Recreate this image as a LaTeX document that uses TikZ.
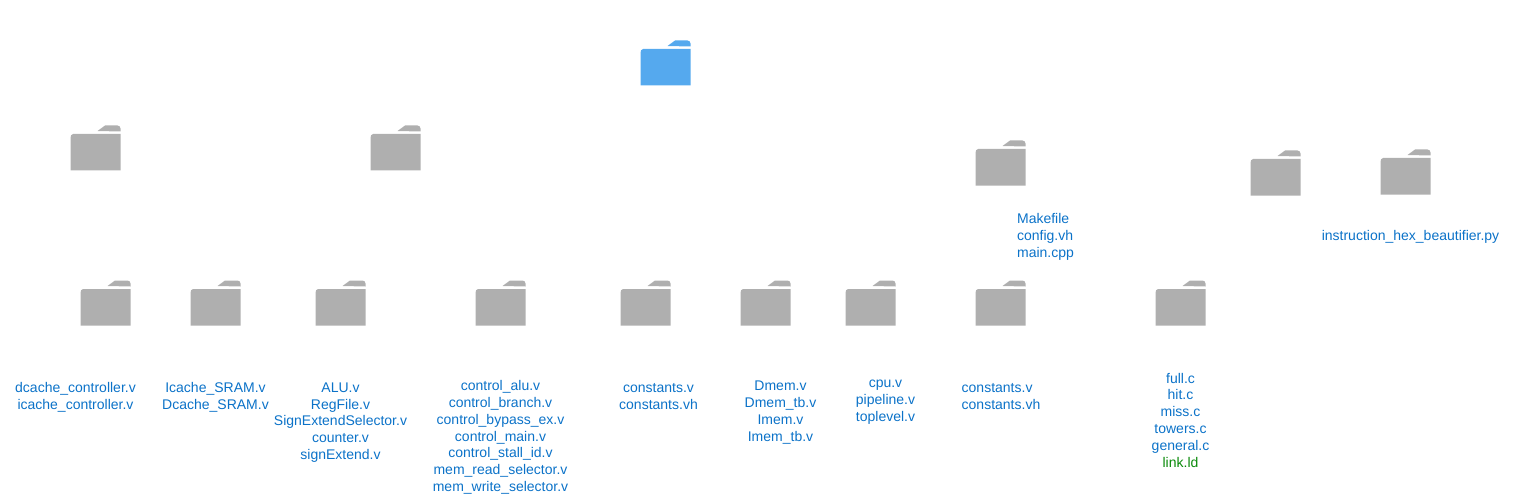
\documentclass[tikz,border=0pt]{standalone}
\usepackage{fontspec}
\setmainfont{Liberation Sans}
\usetikzlibrary{calc}
\definecolor{rootblue}{HTML}{55A9EE}
\definecolor{foldergray}{HTML}{AFAFAF}
\definecolor{filelink}{HTML}{0B72C8}
\definecolor{filegreen}{HTML}{0A8A0A}
\tikzset{
  file list/.style={align=center, inner sep=0pt, text=filelink, font=\fontsize{14pt}{16.8pt}\selectfont},
  left list/.style={file list, align=left},
  root folder/.style={fill=rootblue},
  sub folder/.style={fill=foldergray},
}
\newcommand{\drawFolder}[3]{
  \begin{scope}[shift={(#1,#2)}]
    \fill[#3] (27.5,6) -- (35,0.5) -- (47.5,0.5) to[out=0,in=90] (50.5,3.5) -- (50.5,6.5) -- cycle;
    \fill[#3] (0.5,13) to[out=90,in=180] (3,9) -- (50.5,9) -- (50.5,45.5) -- (0.5,45.5) -- cycle;
  \end{scope}
}

\begin{document}
\begin{tikzpicture}[x=1pt, y=-1pt]
  \useasboundingbox (0,0) rectangle (1521,500);
  \drawFolder{640}{40}{root folder}
  % second row
  \foreach \fx/\fy in {70/125, 370/125, 975/140, 1250/150, 1380/149}
    \drawFolder{\fx}{\fy}{sub folder};
  % third row
  \foreach \fx in {80, 190, 315, 475, 620, 740, 845, 975, 1155}
    \drawFolder{\fx}{280}{sub folder};
  \node[left list] (makefiles) at (1045.5,237) {Makefile\\config.vh\\main.cpp};
  \node[file list] (pyfiles) at (1410.5,237) {instruction\_hex\_beautifier.py};
  \node[file list] (cachectl) at (75.5,397.5) {dcache\_controller.v\\icache\_controller.v};
  \node[file list] (sram) at (215.5,397.5) {Icache\_SRAM.v\\Dcache\_SRAM.v};
  \node[file list] (alu) at (340.5,422.5) {ALU.v\\RegFile.v\\SignExtendSelector.v\\counter.v\\signExtend.v};
  \node[file list] (control) at (500.5,437.5) {control\_alu.v\\control\_branch.v\\control\_bypass\_ex.v\\control\_main.v\\control\_stall\_id.v\\mem\_read\_selector.v\\mem\_write\_selector.v};
  \node[file list] (constA) at (658.5,396.5) {constants.v\\constants.vh};
  \node[file list] (mem) at (780.5,412.5) {Dmem.v\\Dmem\_tb.v\\Imem.v\\Imem\_tb.v};
  \node[file list] (cpu) at (885.5,402) {cpu.v\\pipeline.v\\toplevel.v};
  \node[left list] (constB) at (1001,396.5) {constants.v\\constants.vh};
  \node[file list] (tests) at (1180.5,420) {full.c\\hit.c\\miss.c\\towers.c\\general.c\\\textcolor{filegreen}{link.ld}};
\end{tikzpicture}
\end{document}
